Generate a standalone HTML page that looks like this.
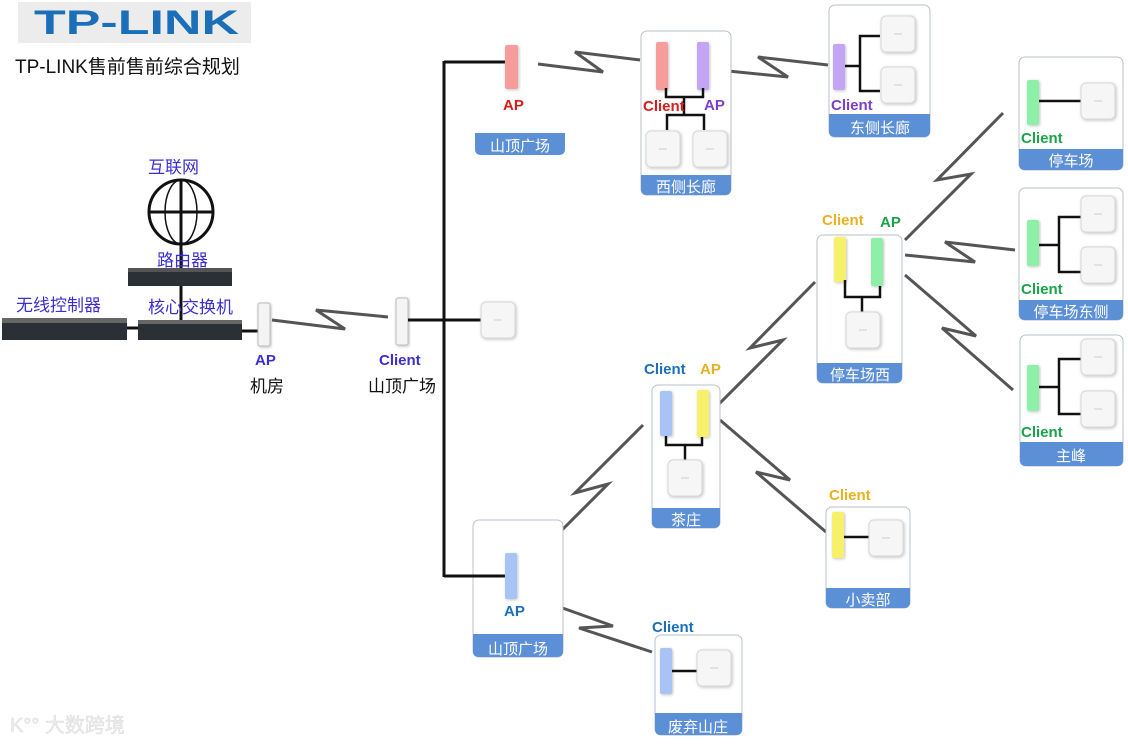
<!DOCTYPE html>
<html><head><meta charset="utf-8"><style>
body{margin:0;width:1128px;height:745px;background:#fff;overflow:hidden;font-family:"Liberation Sans","Noto Sans CJK SC",sans-serif}
svg{position:absolute;left:0;top:0}
text{font-family:"Liberation Sans","Noto Sans CJK SC",sans-serif}
.lb{font-weight:bold;font-size:15px}
.bt{fill:#fff;font-size:15px}
</style></head><body>
<svg width="1128" height="745" viewBox="0 0 1128 745">
<defs>
<filter id="sh" x="-20%" y="-20%" width="140%" height="140%"><feDropShadow dx="1" dy="1" stdDeviation="1.5" flood-color="#999" flood-opacity="0.6"/></filter>
<g id="apd"><rect x="0" y="0" width="34" height="36" rx="5" fill="#f6f6f6" stroke="#d8d8d8" filter="url(#sh)"/><line x1="13" y1="18" x2="21" y2="18" stroke="#ccc"/></g>
</defs>
<!-- logo -->
<rect x="18" y="2" width="233" height="41" fill="#ececec"/>
<text x="34" y="34" font-size="34" font-weight="900" fill="#1a6fb8" textLength="205" lengthAdjust="spacingAndGlyphs">TP-LINK</text>
<text x="15" y="73" font-size="19" fill="#111">TP-LINK售前售前综合规划</text>

<!-- left network -->
<text x="148" y="173" font-size="17" fill="#3b2fd0">互联网</text>
<line x1="181" y1="182" x2="181" y2="322" stroke="#111" stroke-width="3"/>
<circle cx="181" cy="212" r="32" fill="#fff" stroke="#111" stroke-width="3"/>
<ellipse cx="181" cy="212" rx="16" ry="32" fill="none" stroke="#111" stroke-width="1.5"/>
<line x1="149" y1="212" x2="213" y2="212" stroke="#111" stroke-width="3"/>
<line x1="181" y1="180" x2="181" y2="244" stroke="#111" stroke-width="3"/>
<text x="157" y="266" font-size="17" fill="#3b2fd0">路由器</text>
<rect x="128" y="268" width="104" height="18" fill="#2b2f36"/>
<rect x="128" y="268" width="104" height="4" fill="#555"/>
<text x="16" y="311" font-size="17" fill="#3b2fd0">无线控制器</text>
<text x="148" y="313" font-size="17" fill="#3b2fd0">核心交换机</text>
<line x1="126" y1="328" x2="140" y2="328" stroke="#111" stroke-width="3"/>
<line x1="240" y1="331" x2="258" y2="331" stroke="#111" stroke-width="3"/>
<rect x="2" y="318" width="125" height="22" fill="#2b2f36"/>
<rect x="2" y="318" width="125" height="5" fill="#666"/>
<rect x="138" y="320" width="104" height="20" fill="#2b2f36"/>
<rect x="138" y="320" width="104" height="4" fill="#666"/>
<rect x="258" y="303" width="12" height="43" rx="2" fill="#f4f4f4" stroke="#bbb" filter="url(#sh)"/>
<text x="255" y="365" class="lb" fill="#3b2fd0">AP</text>
<text x="250" y="392" font-size="17" fill="#111">机房</text>
<rect x="396" y="298" width="12" height="47" rx="2" fill="#f4f4f4" stroke="#bbb" filter="url(#sh)"/>
<text x="379" y="365" class="lb" fill="#3b2fd0">Client</text>
<text x="368" y="392" font-size="17" fill="#111">山顶广场</text>
<line x1="408" y1="320" x2="482" y2="320" stroke="#111" stroke-width="3"/>
<use href="#apd" x="481" y="302"/>
<polyline points="444,62 505,62" fill="none" stroke="#111" stroke-width="3"/>
<line x1="444" y1="61" x2="444" y2="577" stroke="#111" stroke-width="3"/>
<line x1="444" y1="576" x2="506" y2="576" stroke="#111" stroke-width="3"/>

<!-- lightning -->
<g fill="none" stroke="#555" stroke-width="3" stroke-linejoin="miter">
<polyline points="272,320 345,329 316,310 388,317"/>
<polyline points="538,64 603,72 575,52 640,60"/>
<polyline points="718,70 788,77 758,57 828,65"/>
<polyline points="905,240 971,174 937,180 1003,113"/>
<polyline points="905,255 975,262 945,242 1015,250"/>
<polyline points="905,275 976,336 942,328 1013,390"/>
<polyline points="718,405 783,340 750,348 815,282"/>
<polyline points="540,552 608,484 575,493 643,425"/>
<polyline points="720,420 790,480 756,472 826,532"/>
<polyline points="540,600 613,626 579,628 652,652"/>
</g>

<!-- top 山顶广场 -->
<rect x="505" y="45" width="13" height="44" rx="2" fill="#f79c9c" filter="url(#sh)"/>
<text x="503" y="110" class="lb" fill="#d91c1c">AP</text>
<path d="M475,133 H565 V149 Q565,155 559,155 H481 Q475,155 475,149Z" fill="#5b8fd6"/>
<text x="520" y="151" class="bt" text-anchor="middle">山顶广场</text>

<!-- 西侧长廊 -->
<rect x="641" y="31" width="90" height="164" rx="6" fill="#fff" stroke="#b8c0cc"/>
<rect x="656" y="42" width="12" height="48" rx="2" fill="#f79c9c" filter="url(#sh)"/>
<rect x="697" y="42" width="12" height="48" rx="2" fill="#c3a4f5" filter="url(#sh)"/>
<g stroke="#111" stroke-width="2.5" fill="none"><polyline points="666,88 666,97 703,97 703,88"/><polyline points="684,97 684,116"/><polyline points="667,130 667,115 704,115 704,130"/></g>
<text x="643" y="111" class="lb" fill="#d91c1c">Client</text>
<text x="704" y="110" class="lb" fill="#7b3fc8">AP</text>
<use href="#apd" x="646" y="131"/><use href="#apd" x="693" y="131"/>
<path d="M641,175 H731 V189 Q731,195 725,195 H647 Q641,195 641,189Z" fill="#5b8fd6"/>
<text x="686" y="192" class="bt" text-anchor="middle">西侧长廊</text>

<!-- 东侧长廊 -->
<rect x="829" y="5" width="101" height="132" rx="6" fill="#fff" stroke="#b8c0cc"/>
<rect x="833" y="44" width="12" height="46" rx="2" fill="#c3a4f5" filter="url(#sh)"/>
<g stroke="#111" stroke-width="2.5" fill="none"><line x1="845" y1="66" x2="860" y2="66"/><polyline points="880,36 860,36 860,91 880,91"/></g>
<use href="#apd" x="881" y="16"/><use href="#apd" x="881" y="67"/>
<text x="831" y="110" class="lb" fill="#7b3fc8">Client</text>
<path d="M829,114 H930 V131 Q930,137 924,137 H835 Q829,137 829,131Z" fill="#5b8fd6"/>
<text x="880" y="133" class="bt" text-anchor="middle">东侧长廊</text>

<!-- 停车场 -->
<rect x="1019" y="57" width="104" height="113" rx="6" fill="#fff" stroke="#b8c0cc"/>
<rect x="1027" y="80" width="12" height="45" rx="2" fill="#8ef0a8" filter="url(#sh)"/>
<line x1="1039" y1="101" x2="1081" y2="101" stroke="#111" stroke-width="2.5"/>
<use href="#apd" x="1081" y="83"/>
<text x="1021" y="143" class="lb" fill="#19a34a">Client</text>
<path d="M1019,149 H1123 V164 Q1123,170 1117,170 H1025 Q1019,170 1019,164Z" fill="#5b8fd6"/>
<text x="1071" y="166" class="bt" text-anchor="middle">停车场</text>

<!-- 停车场东侧 -->
<rect x="1019" y="188" width="104" height="132" rx="6" fill="#fff" stroke="#b8c0cc"/>
<rect x="1027" y="220" width="12" height="46" rx="2" fill="#8ef0a8" filter="url(#sh)"/>
<g stroke="#111" stroke-width="2.5" fill="none"><line x1="1039" y1="245" x2="1059" y2="245"/><polyline points="1081,217 1059,217 1059,272 1081,272"/></g>
<use href="#apd" x="1081" y="196"/><use href="#apd" x="1081" y="247"/>
<text x="1021" y="294" class="lb" fill="#19a34a">Client</text>
<path d="M1019,300 H1123 V314 Q1123,320 1117,320 H1025 Q1019,320 1019,314Z" fill="#5b8fd6"/>
<text x="1071" y="317" class="bt" text-anchor="middle">停车场东侧</text>

<!-- 主峰 -->
<rect x="1020" y="335" width="103" height="131" rx="6" fill="#fff" stroke="#b8c0cc"/>
<rect x="1027" y="365" width="12" height="46" rx="2" fill="#8ef0a8" filter="url(#sh)"/>
<g stroke="#111" stroke-width="2.5" fill="none"><line x1="1039" y1="387" x2="1059" y2="387"/><polyline points="1081,359 1059,359 1059,414 1081,414"/></g>
<use href="#apd" x="1081" y="339"/><use href="#apd" x="1081" y="391"/>
<text x="1021" y="437" class="lb" fill="#19a34a">Client</text>
<path d="M1020,442 H1123 V460 Q1123,466 1117,466 H1026 Q1020,466 1020,460Z" fill="#5b8fd6"/>
<text x="1071" y="461" class="bt" text-anchor="middle">主峰</text>

<!-- 停车场西 -->
<rect x="817" y="235" width="85" height="148" rx="6" fill="#fff" stroke="#b8c0cc"/>
<rect x="834" y="237" width="12" height="45" rx="2" fill="#f7f06a" filter="url(#sh)"/>
<rect x="871" y="238" width="12" height="48" rx="2" fill="#8ef0a8" filter="url(#sh)"/>
<g stroke="#111" stroke-width="2.5" fill="none"><polyline points="845,280 845,297 880,297 880,286"/><line x1="862" y1="297" x2="862" y2="312"/></g>
<use href="#apd" x="846" y="312"/>
<text x="822" y="225" class="lb" fill="#e9b020">Client</text>
<text x="880" y="227" class="lb" fill="#19a34a">AP</text>
<path d="M817,363 H902 V377 Q902,383 896,383 H823 Q817,383 817,377Z" fill="#5b8fd6"/>
<text x="860" y="380" class="bt" text-anchor="middle">停车场西</text>

<!-- 茶庄 -->
<rect x="652" y="385" width="68" height="143" rx="6" fill="#fff" stroke="#b8c0cc"/>
<rect x="660" y="391" width="12" height="45" rx="2" fill="#a8c4f4" filter="url(#sh)"/>
<rect x="697" y="390" width="12" height="47" rx="2" fill="#f7f06a" filter="url(#sh)"/>
<g stroke="#111" stroke-width="2.5" fill="none"><polyline points="666,436 666,445 702,445 702,437"/><line x1="685" y1="445" x2="685" y2="460"/></g>
<use href="#apd" x="668" y="460"/>
<text x="644" y="374" class="lb" fill="#1a6fb8">Client</text>
<text x="700" y="374" class="lb" fill="#e9b020">AP</text>
<path d="M652,508 H720 V522 Q720,528 714,528 H658 Q652,528 652,522Z" fill="#5b8fd6"/>
<text x="686" y="525" class="bt" text-anchor="middle">茶庄</text>

<!-- 小卖部 -->
<rect x="826" y="507" width="84" height="101" rx="6" fill="#fff" stroke="#b8c0cc"/>
<rect x="832" y="512" width="12" height="46" rx="2" fill="#f7f06a" filter="url(#sh)"/>
<line x1="844" y1="537" x2="869" y2="537" stroke="#111" stroke-width="2.5"/>
<use href="#apd" x="869" y="520"/>
<text x="829" y="500" class="lb" fill="#e9b020">Client</text>
<path d="M826,588 H910 V602 Q910,608 904,608 H832 Q826,608 826,602Z" fill="#5b8fd6"/>
<text x="868" y="605" class="bt" text-anchor="middle">小卖部</text>

<!-- bottom 山顶广场 -->
<rect x="473" y="520" width="90" height="137" rx="6" fill="#fff" stroke="#b8c0cc"/>
<line x1="444" y1="576" x2="506" y2="576" stroke="#111" stroke-width="3"/>
<rect x="505" y="553" width="12" height="46" rx="2" fill="#a8c4f4" filter="url(#sh)"/>
<text x="504" y="616" class="lb" fill="#1a6fb8">AP</text>
<path d="M473,634 H563 V651 Q563,657 557,657 H479 Q473,657 473,651Z" fill="#5b8fd6"/>
<text x="518" y="654" class="bt" text-anchor="middle">山顶广场</text>

<!-- 废弃山庄 -->
<rect x="655" y="635" width="87" height="100" rx="6" fill="#fff" stroke="#b8c0cc"/>
<rect x="660" y="648" width="12" height="46" rx="2" fill="#a8c4f4" filter="url(#sh)"/>
<line x1="672" y1="671" x2="697" y2="671" stroke="#111" stroke-width="2.5"/>
<use href="#apd" x="697" y="650"/>
<text x="652" y="632" class="lb" fill="#1a6fb8">Client</text>
<path d="M655,713 H742 V729 Q742,735 736,735 H661 Q655,735 655,729Z" fill="#5b8fd6"/>
<text x="698" y="732" class="bt" text-anchor="middle">废弃山庄</text>

<!-- watermark -->
<text x="10" y="732" font-size="20" fill="#ececec" stroke="#dcdcdc" stroke-width="0.5">K°° 大数跨境</text>
</svg>
</body></html>
